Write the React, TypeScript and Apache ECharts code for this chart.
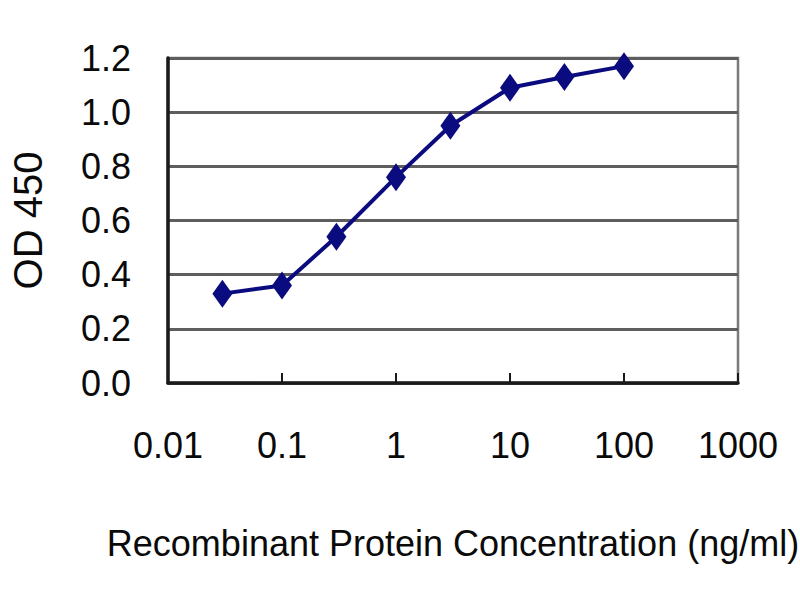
import * as echarts from "echarts"
import { useEffect, useRef } from "react"

// Concentrations (ng/ml) and OD 450 readings
const concentrations = [0.03, 0.1, 0.3, 1, 3, 10, 30, 100]
const odValues = [0.33, 0.36, 0.54, 0.76, 0.95, 1.09, 1.13, 1.17]
const xTickLabels = ["0.01", "0.1", "1", "10", "100", "1000"]
const yTickLabels = ["0.0", "0.2", "0.4", "0.6", "0.8", "1.0", "1.2"]

const FONT = "'Liberation Sans', Arial, sans-serif"

export default function App() {
  const chartRef = useRef<HTMLDivElement>(null)

  useEffect(() => {
    if (!chartRef.current) return
    const chart = echarts.init(chartRef.current, undefined, { renderer: "svg" })

    const option: echarts.EChartsOption = {
      animation: false,
      backgroundColor: "#ffffff",
      textStyle: { fontFamily: FONT },
      grid: {
        left: 162,
        right: 62,
        top: 58,
        bottom: 217,
        show: true,
        borderColor: "#7a7a7a",
        borderWidth: 2.5,
      },
      xAxis: {
        type: "log",
        logBase: 10,
        min: 0.01,
        max: 1000,
        name: "Recombinant Protein Concentration (ng/ml)",
        nameLocation: "middle",
        nameGap: 142,
        nameTextStyle: { fontSize: 36, color: "#0a0a0a", fontFamily: FONT },
        axisLine: { show: true, lineStyle: { color: "#1a1a1a", width: 3.5 } },
        axisTick: { show: true, inside: true, length: 10, lineStyle: { color: "#1a1a1a", width: 2 } },
        splitLine: { show: false },
        minorTick: { show: false },
        axisLabel: {
          fontSize: 36,
          color: "#0a0a0a",
          margin: 44,
          fontFamily: FONT,
          formatter: (v: number) => xTickLabels[Math.round(Math.log10(v)) + 2] ?? "",
        },
      },
      yAxis: {
        type: "value",
        min: 0,
        max: 1.2,
        interval: 0.2,
        name: "OD 450",
        nameLocation: "middle",
        nameRotate: 90,
        nameGap: 120,
        nameTextStyle: { fontSize: 40, color: "#0a0a0a", fontFamily: FONT },
        axisLine: { show: true, lineStyle: { color: "#1a1a1a", width: 3.5 } },
        axisTick: { show: false },
        splitLine: { show: true, lineStyle: { color: "#5e5e5e", width: 3 } },
        axisLabel: {
          fontSize: 36,
          color: "#0a0a0a",
          margin: 37,
          fontFamily: FONT,
          formatter: (v: number) => yTickLabels[Math.round(v / 0.2)] ?? "",
        },
      },
      series: [
        {
          type: "line",
          data: concentrations.map((c, i) => [c, odValues[i]]),
          symbol: "diamond",
          symbolSize: [20, 28],
          lineStyle: { color: "#0b0b80", width: 4 },
          itemStyle: { color: "#0b0b80" },
        },
      ],
    }

    chart.setOption(option)
    return () => {
      chart.dispose()
    }
  }, [])

  return (
    <div
      ref={chartRef}
      style={{ position: "absolute", left: 0, top: 0, width: 800, height: 600 }}
    />
  )
}
